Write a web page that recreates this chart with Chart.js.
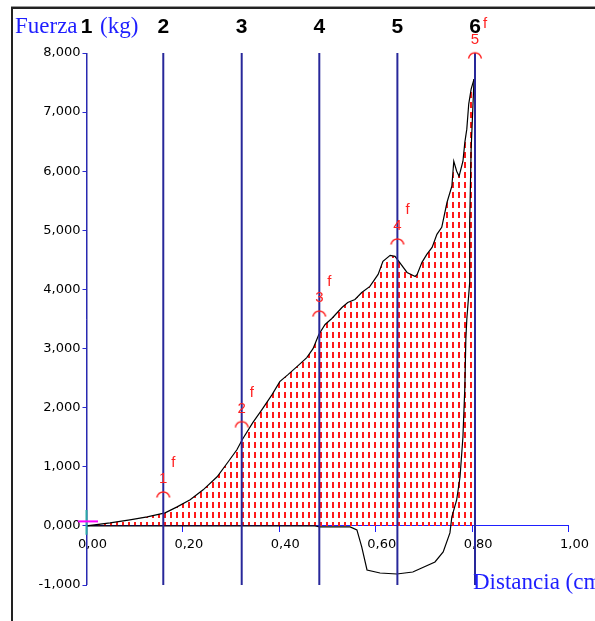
<!DOCTYPE html>
<html><head><meta charset="utf-8">
<script src="https://cdn.jsdelivr.net/npm/chart.js@4"></script>
<style>html,body{margin:0;padding:0;background:#fff;overflow:hidden}#wrap{position:relative;width:595px;height:621px}</style>
</head><body><div id="wrap"><canvas id="c" width="595" height="621"></canvas></div>
<script>
// Loading curve (Distancia cm, Fuerza)
const loadX = [0, 0.049, 0.090, 0.126, 0.163, 0.188, 0.215, 0.242, 0.271, 0.294, 0.312, 0.323, 0.345, 0.364, 0.385, 0.401, 0.418, 0.439, 0.457, 0.470, 0.482, 0.495, 0.509, 0.530, 0.542, 0.557, 0.571, 0.588, 0.605, 0.615, 0.630, 0.640, 0.648, 0.665, 0.682, 0.686, 0.696, 0.706, 0.717, 0.727, 0.737, 0.748, 0.758, 0.762, 0.768, 0.773, 0.781, 0.785, 0.789, 0.793, 0.798, 0.804];
const loadY = [0, 0.051, 0.102, 0.153, 0.220, 0.322, 0.441, 0.610, 0.831, 1.085, 1.288, 1.458, 1.746, 1.966, 2.220, 2.441, 2.559, 2.712, 2.847, 2.999, 3.237, 3.407, 3.508, 3.695, 3.780, 3.831, 3.949, 4.051, 4.254, 4.475, 4.576, 4.559, 4.475, 4.288, 4.220, 4.254, 4.458, 4.593, 4.712, 4.932, 5.051, 5.475, 5.746, 6.169, 6.000, 5.915, 6.169, 6.492, 6.712, 7.136, 7.390, 7.559];
// Unloading / return curve
const unloadX = [0.804, 0.798, 0.795, 0.795, 0.789, 0.787, 0.785, 0.781, 0.775, 0.768, 0.758, 0.754, 0.740, 0.723, 0.677, 0.644, 0.609, 0.582, 0.571, 0.561, 0.547, 0.484, 0.474, 0];
const unloadY = [7.559, 6.373, 5.136, 4.119, 3.492, 3.153, 2.356, 1.508, 0.831, 0.441, 0.153, -0.119, -0.441, -0.610, -0.780, -0.814, -0.797, -0.746, -0.356, -0.068, -0.017, -0.017, 0, 0];
// Numbered vertical lines
const lineX = [0, 0.1593, 0.322, 0.483, 0.645, 0.806];
const lineLabels = ['1', '2', '3', '4', '5', '6'];
// Failure markers
const markX = [0.1593, 0.322, 0.483, 0.645, 0.806];
const markY = [0.54, 1.73, 3.60, 4.82, 7.97];
const markLabels = ['1', '2', '3', '4', '5'];
// Small origin marks
const magentaX = [-0.0176, 0.0239];
const magentaY = [0.076, 0.076];
const tealX = [0, 0];
const tealY = [0.27, -0.15];

const yTitle = 'Fuerza';
const yUnit = '(kg)';
const xTitle = 'Distancia (cm)';

const pts = (xs, ys) => xs.map((x, i) => ({x: x, y: ys[i]}));
const vlines = [];
lineX.forEach(x => { vlines.push({x: x, y: -1}); vlines.push({x: x, y: 8}); vlines.push({x: x, y: null}); });

const canvas = document.getElementById('c');
const ctx0 = canvas.getContext('2d');
// hatch pattern
const pc = document.createElement('canvas'); pc.width = 6; pc.height = 10;
const pctx = pc.getContext('2d');
pctx.fillStyle = '#ff1a1a'; pctx.fillRect(2, 2, 2, 6);
const hatch = ctx0.createPattern(pc, 'repeat');
// arc marker
const ac = document.createElement('canvas'); ac.width = 16; ac.height = 8;
const actx = ac.getContext('2d');
actx.strokeStyle = '#ff2020'; actx.lineWidth = 1.4;
actx.beginPath(); actx.moveTo(1.5, 7.5); actx.quadraticCurveTo(3, 2, 8, 2); actx.quadraticCurveTo(13, 2, 14.5, 7.5); actx.stroke();

const deco = {
  id: 'deco',
  beforeDraw(chart) {
    const c = chart.ctx;
    c.save();
    c.fillStyle = '#fff'; c.fillRect(0, 0, chart.width, chart.height);
    c.fillStyle = '#999'; c.fillRect(11, 6, 584, 1);
    c.fillStyle = '#222'; c.fillRect(11, 7, 584, 2);
    c.fillRect(11, 7, 2, 614);
    c.restore();
  },
  afterDraw(chart) {
    const c = chart.ctx, xs = chart.scales.x, ys = chart.scales.y;
    c.save();
    c.fillStyle = '#1e1eff';
    c.font = '23px "Liberation Serif"';
    c.textAlign = 'left'; c.textBaseline = 'alphabetic';
    c.fillText(yTitle, 15, 33);
    c.fillText(yUnit, 100, 33);
    c.fillText(xTitle, 473, 589);
    c.fillStyle = '#000';
    c.font = 'bold 21px "Liberation Sans"';
    c.textAlign = 'center';
    lineX.forEach((x, i) => c.fillText(lineLabels[i], xs.getPixelForValue(x), 33));
    c.fillStyle = '#ff2020';
    c.font = '15px "Liberation Sans"';
    markX.forEach((x, i) => {
      const px = xs.getPixelForValue(x), py = ys.getPixelForValue(markY[i]);
      c.textAlign = 'center';
      c.fillText(markLabels[i], px, py - 11);
      c.textAlign = 'left';
      c.fillText('f', px + 8, py - 27);
    });
    c.restore();
  }
};

new Chart(canvas, {
  type: 'line',
  data: {
    datasets: [
      {data: pts(markX, markY), showLine: false, pointStyle: ac, pointRadius: 8, pointHoverRadius: 8, order: 1, clip: false},
      {data: pts(magentaX, magentaY), borderColor: '#ff00ff', borderWidth: 2, pointRadius: 0, order: 2, clip: false},
      {data: pts(tealX, tealY), borderColor: '#2aa8a8', borderWidth: 2, pointRadius: 0, order: 2, clip: false},
      {data: vlines, borderColor: '#28289a', borderWidth: 2, pointRadius: 0, spanGaps: false, order: 3},
      {data: pts(unloadX, unloadY), borderColor: '#000', borderWidth: 1.2, pointRadius: 0, order: 4},
      {data: pts(loadX, loadY), borderColor: '#000', borderWidth: 1.2, pointRadius: 0, fill: 'origin', backgroundColor: hatch, order: 5}
    ]
  },
  options: {
    responsive: false,
    animation: false,
    events: [],
    layout: {padding: {left: 0, top: 53, right: 26.5, bottom: 36}},
    plugins: {legend: {display: false}, tooltip: {enabled: false}, title: {display: false}},
    scales: {
      x: {
        type: 'linear', min: 0, max: 1, position: {y: 0},
        afterFit: s => { s.height = 0; },
        border: {display: true, color: '#1f1fff', width: 1},
        grid: {drawOnChartArea: false, drawTicks: true, tickLength: 6, tickColor: '#1f1fff', tickWidth: 1},
        ticks: {stepSize: 0.2, padding: 5, labelOffset: 6, color: '#000', maxRotation: 0, font: {family: 'DejaVu Sans', size: 13},
          callback: v => v.toFixed(2).replace('.', ',')}
      },
      y: {
        type: 'linear', min: -1, max: 8, position: 'left',
        afterFit: s => { s.width = 86.5; },
        border: {display: true, color: '#2b2bd0', width: 1},
        grid: {drawOnChartArea: false, drawTicks: true, tickLength: 4, tickColor: '#2b2bd0', tickWidth: 1},
        ticks: {stepSize: 1, padding: 2, color: '#000', font: {family: 'DejaVu Sans', size: 13},
          callback: v => v.toFixed(3).replace('.', ',')}
      }
    }
  },
  plugins: [deco]
});
</script></body></html>
